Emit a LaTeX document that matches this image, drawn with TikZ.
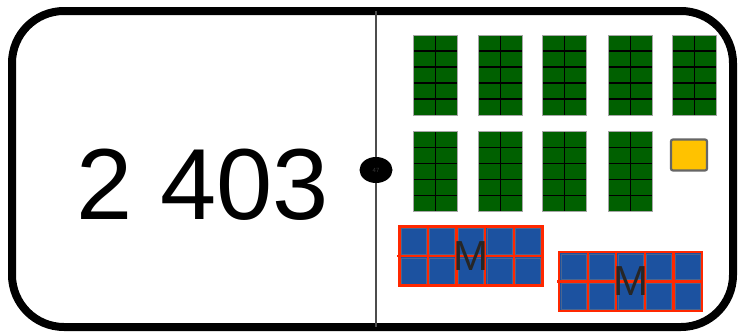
\documentclass[tikz,border=0pt]{standalone}
\usepackage{fontspec}
\setmainfont{Liberation Sans}
\usepackage{tikz}
\usetikzlibrary{positioning,shapes.geometric,calc}
\usepackage{xcolor}
\definecolor{hgreen}{RGB}{0,96,0}
\definecolor{mblue}{RGB}{28,82,160}
\definecolor{mred}{RGB}{255,40,0}
\definecolor{ugold}{RGB}{255,194,0}

% one block of a hundred: 2 x 5 cells
\newcommand{\hblock}[3]{%
  \node[hundred] (#1) at (#2,#3) {};
  \foreach \k in {1,...,4}
    \draw[hgrid] ($(#1.north west)!\k/5!(#1.south west)$) -- ($(#1.north east)!\k/5!(#1.south east)$);
  \draw[hgrid] (#1.north) -- (#1.south);
  \draw[hedge] (#1.north west) rectangle (#1.south east);
}

% one block of a thousand: 5 x 2 cells, marked M
\newcommand{\mblock}[3]{%
  \node[mille] (#1) at (#2,#3) {};
  \foreach \i in {0,...,4}
    \foreach \j in {0,1}
      \draw[mcell] ($(#1.north west)+(\i*28.6+1.8,\j*29.5+1.8)$) rectangle ++(25,25.9);
  \foreach \k in {1,...,4}
    \draw[mgrid] ($(#1.north west)!\k/5!(#1.north east)$) -- ($(#1.south west)!\k/5!(#1.south east)$);
  \draw[mgrid] ([xshift=-2pt]#1.west) -- (#1.east);
  \draw[medge] (#1.north west) rectangle (#1.south east);
  \node[mlabel] (#1-m) at (#1) {M};
}

\begin{document}
\begin{tikzpicture}[
      x=1pt, y=-1pt,
      frame/.style={draw=black, line width=8pt, rounded corners=52pt},
      divider/.style={draw=black!70, line width=1.6pt},
      dot/.style={ellipse, fill=black, minimum width=33pt, minimum height=26pt,
                  inner sep=0pt, text=black!78, font=\fontsize{6}{6}\selectfont},
      number/.style={inner sep=0pt, font=\fontsize{101}{101}\selectfont},
      hundred/.style={rectangle, fill=hgreen, minimum width=44pt, minimum height=80pt,
                      inner sep=0pt, outer sep=0pt},
      hgrid/.style={black, line width=1.3pt},
      hedge/.style={draw=gray!70, line width=0.8pt},
      unit/.style={rectangle, fill=ugold, draw=black!60, line width=2.2pt,
                   rounded corners=2pt, minimum width=36pt, minimum height=31pt, inner sep=0pt},
      mille/.style={rectangle, fill=mblue, minimum width=143pt, minimum height=59pt,
                    inner sep=0pt, outer sep=0pt},
      mcell/.style={draw=gray!45!mblue, line width=0.5pt},
      mgrid/.style={mred, line width=2.2pt},
      medge/.style={draw=mred, line width=2.6pt},
      mlabel/.style={inner sep=0pt, text=black!85, font=\fontsize{42}{42}\selectfont},
    ]
    \useasboundingbox (0,0) rectangle (742,335);

    % Card
    \draw[frame] (12,11) rectangle (733,327);
    \coordinate (top) at (376,11);
    \coordinate (bottom) at (376,327);
    \draw[divider] (top) -- (bottom);
    \node[dot] (mid) at (376,170) {47};

    % Number
    \node[number] (num) at (202.5,184.5) {2 403};

    % Hundreds
    \hblock{h1}{435.5}{75}
    \hblock{h2}{500.7}{75}
    \hblock{h3}{564.7}{75}
    \hblock{h4}{630.5}{75}
    \hblock{h5}{694.7}{75}
    \hblock{h6}{435.5}{171.7}
    \hblock{h7}{500.7}{171.7}
    \hblock{h8}{564.7}{171.7}
    \hblock{h9}{630.3}{171.7}

    % Unit
    \node[unit] (u1) at (689,155) {};

    % Thousands
    \mblock{m1}{470.8}{256.2}
    \mblock{m2}{630.5}{281.5}
  \end{tikzpicture}
\end{document}
